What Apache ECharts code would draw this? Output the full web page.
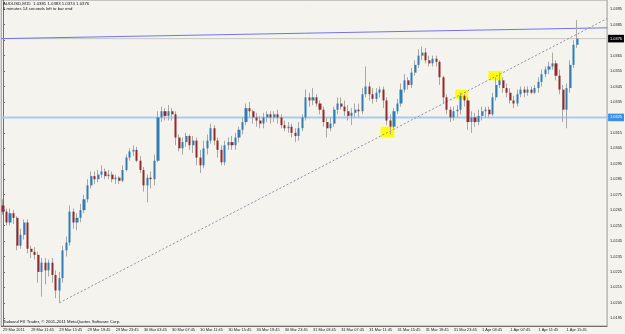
<!DOCTYPE html>
<html>
<head>
<meta charset="utf-8">
<script src="https://cdn.jsdelivr.net/npm/echarts@6/dist/echarts.min.js"></script>
<style>
html,body{margin:0;padding:0;background:#f4f3ee;}
#chart{width:625px;height:334px;}
</style>
</head>
<body>
<div id="chart"></div>
<script>
// ---- categories (30-minute bars) ----
const times29 = ["07:45","08:15","08:45","09:15","09:45","10:15","10:45","11:15","11:45","12:15","12:45","13:15","13:45","14:15","14:45","15:15","15:45","16:15","16:45","17:15","17:45","18:15","18:45","19:15","19:45","20:15","20:45","21:15","21:45","22:15","22:45","23:15","23:45"];
const timesDay = ["00:15","00:45","01:15","01:45","02:15","02:45","03:15","03:45","04:15","04:45","05:15","05:45","06:15","06:45","07:15","07:45","08:15","08:45","09:15","09:45","10:15","10:45","11:15","11:45","12:15","12:45","13:15","13:45","14:15","14:45","15:15","15:45","16:15","16:45","17:15","17:45","18:15","18:45","19:15","19:45","20:15","20:45","21:15","21:45","22:15","22:45","23:15","23:45"];
const timesApr1 = timesDay.slice(0, 43);
const categories = [].concat(
  times29.map(t => "29 Mar " + t),
  timesDay.map(t => "30 Mar " + t),
  timesDay.map(t => "31 Mar " + t),
  timesApr1.map(t => "1 Apr " + t)
);

// ---- tick labels ----
const xTickLabels = ["29 Mar 2011","29 Mar 11:45","29 Mar 15:45","29 Mar 19:45","29 Mar 23:45","30 Mar 03:45","30 Mar 07:45","30 Mar 11:45","30 Mar 15:45","30 Mar 19:45","30 Mar 23:45","31 Mar 03:45","31 Mar 07:45","31 Mar 11:45","31 Mar 15:45","31 Mar 19:45","31 Mar 23:45","1 Apr 03:45","1 Apr 07:45","1 Apr 11:45","1 Apr 15:45"];
const yTickValues = [1.0195,1.0205,1.0215,1.0225,1.0235,1.0245,1.0255,1.0265,1.0275,1.0285,1.0295,1.0305,1.0315,1.0325,1.0335,1.0345,1.0355,1.0365,1.0375,1.0385,1.0395];

// ---- OHLC ----
const opens = [
1.0268,1.0264,1.0257,1.0263,1.0260,1.0242,1.0249,1.0257,1.0240,1.0238,
1.0236,1.0225,1.0231,1.0226,1.0231,1.0223,1.0213,1.0221,1.0239,1.0244,
1.0264,1.0257,1.0260,1.0265,1.0272,1.0281,1.0287,1.0285,1.0288,1.0290,
1.0287,1.0288,1.0285,1.0286,1.0284,1.0291,1.0299,1.0303,1.0304,1.0297,
1.0291,1.0281,1.0286,1.0285,1.0297,1.0325,1.0329,1.0326,1.0329,1.0327,
1.0312,1.0305,1.0309,1.0313,1.0307,1.0310,1.0299,1.0294,1.0305,1.0310,
1.0318,1.0310,1.0304,1.0296,1.0307,1.0309,1.0307,1.0312,1.0317,1.0322,
1.0331,1.0329,1.0325,1.0323,1.0321,1.0325,1.0327,1.0325,1.0327,1.0325,
1.0320,1.0318,1.0319,1.0315,1.0313,1.0318,1.0325,1.0338,1.0336,1.0338,
1.0334,1.0330,1.0322,1.0318,1.0321,1.0330,1.0334,1.0332,1.0329,1.0326,
1.0328,1.0330,1.0329,1.0340,1.0345,1.0340,1.0337,1.0341,1.0343,1.0336,
1.0323,1.0319,1.0329,1.0334,1.0343,1.0349,1.0346,1.0354,1.0359,1.0365,
1.0367,1.0362,1.0360,1.0363,1.0361,1.0351,1.0338,1.0330,1.0325,1.0329,
1.0330,1.0339,1.0336,1.0322,1.0325,1.0322,1.0326,1.0329,1.0330,1.0327,
1.0338,1.0346,1.0349,1.0344,1.0341,1.0336,1.0334,1.0340,1.0343,1.0341,
1.0343,1.0341,1.0344,1.0348,1.0353,1.0356,1.0358,1.0360,1.0352,1.0343,
1.0330,1.0344,1.0359,1.0372];
const closes = [
1.0264,1.0257,1.0263,1.0260,1.0242,1.0249,1.0257,1.0240,1.0238,1.0236,
1.0225,1.0231,1.0226,1.0231,1.0223,1.0213,1.0221,1.0239,1.0244,1.0264,
1.0257,1.0260,1.0265,1.0272,1.0281,1.0287,1.0285,1.0288,1.0290,1.0287,
1.0288,1.0285,1.0286,1.0284,1.0291,1.0299,1.0303,1.0304,1.0297,1.0291,
1.0281,1.0286,1.0285,1.0297,1.0325,1.0329,1.0326,1.0329,1.0327,1.0312,
1.0305,1.0309,1.0313,1.0307,1.0310,1.0299,1.0294,1.0305,1.0310,1.0318,
1.0310,1.0304,1.0296,1.0307,1.0309,1.0307,1.0312,1.0317,1.0322,1.0331,
1.0329,1.0325,1.0323,1.0321,1.0325,1.0327,1.0325,1.0327,1.0325,1.0320,
1.0318,1.0319,1.0315,1.0313,1.0318,1.0325,1.0338,1.0336,1.0338,1.0334,
1.0330,1.0322,1.0318,1.0321,1.0330,1.0334,1.0332,1.0329,1.0326,1.0328,
1.0330,1.0329,1.0340,1.0345,1.0340,1.0337,1.0341,1.0343,1.0336,1.0323,
1.0319,1.0329,1.0334,1.0343,1.0349,1.0346,1.0354,1.0359,1.0365,1.0367,
1.0362,1.0360,1.0363,1.0361,1.0351,1.0338,1.0330,1.0325,1.0329,1.0330,
1.0339,1.0336,1.0322,1.0325,1.0322,1.0326,1.0329,1.0330,1.0327,1.0338,
1.0346,1.0349,1.0344,1.0341,1.0336,1.0334,1.0340,1.0343,1.0341,1.0343,
1.0341,1.0344,1.0348,1.0353,1.0356,1.0358,1.0360,1.0352,1.0343,1.0330,
1.0344,1.0359,1.0372,1.0376];
const highs = [
1.0272,1.0266,1.0266,1.0265,1.0261,1.0253,1.0259,1.0259,1.0242,1.0241,
1.0238,1.0234,1.0234,1.0233,1.0234,1.0226,1.0225,1.0242,1.0248,1.0268,
1.0266,1.0263,1.0269,1.0275,1.0285,1.0290,1.0290,1.0291,1.0294,1.0292,
1.0291,1.0290,1.0288,1.0287,1.0294,1.0301,1.0305,1.0307,1.0306,1.0300,
1.0293,1.0288,1.0290,1.0301,1.0329,1.0332,1.0331,1.0333,1.0331,1.0329,
1.0314,1.0312,1.0315,1.0314,1.0313,1.0312,1.0304,1.0310,1.0314,1.0321,
1.0320,1.0312,1.0307,1.0310,1.0312,1.0313,1.0315,1.0319,1.0325,1.0334,
1.0335,1.0330,1.0328,1.0326,1.0328,1.0329,1.0329,1.0329,1.0330,1.0327,
1.0323,1.0322,1.0321,1.0318,1.0322,1.0327,1.0343,1.0341,1.0344,1.0340,
1.0336,1.0332,1.0325,1.0325,1.0332,1.0338,1.0338,1.0336,1.0333,1.0331,
1.0334,1.0334,1.0344,1.0358,1.0348,1.0344,1.0344,1.0345,1.0345,1.0338,
1.0327,1.0331,1.0337,1.0347,1.0353,1.0351,1.0357,1.0362,1.0369,1.0371,
1.0370,1.0365,1.0365,1.0365,1.0362,1.0352,1.0340,1.0332,1.0332,1.0333,
1.0341,1.0340,1.0338,1.0329,1.0328,1.0330,1.0332,1.0332,1.0332,1.0341,
1.0351,1.0354,1.0351,1.0347,1.0344,1.0339,1.0343,1.0345,1.0345,1.0345,
1.0345,1.0346,1.0351,1.0356,1.0358,1.0361,1.0367,1.0362,1.0356,1.0346,
1.0347,1.0362,1.0375,1.0388];
const lows = [
1.0262,1.0255,1.0255,1.0256,1.0239,1.0240,1.0246,1.0237,1.0234,1.0233,
1.0218,1.0209,1.0217,1.0222,1.0218,1.0208,1.0205,1.0218,1.0235,1.0242,
1.0253,1.0252,1.0257,1.0263,1.0270,1.0279,1.0282,1.0283,1.0286,1.0285,
1.0285,1.0283,1.0282,1.0282,1.0283,1.0290,1.0297,1.0300,1.0296,1.0289,
1.0277,1.0270,1.0279,1.0281,1.0296,1.0322,1.0323,1.0323,1.0323,1.0307,
1.0303,1.0301,1.0306,1.0304,1.0302,1.0294,1.0289,1.0292,1.0301,1.0308,
1.0307,1.0299,1.0294,1.0294,1.0304,1.0304,1.0304,1.0309,1.0314,1.0320,
1.0325,1.0321,1.0319,1.0318,1.0318,1.0322,1.0321,1.0322,1.0321,1.0318,
1.0316,1.0315,1.0312,1.0309,1.0310,1.0316,1.0323,1.0332,1.0333,1.0332,
1.0327,1.0319,1.0312,1.0316,1.0319,1.0327,1.0330,1.0326,1.0323,1.0320,
1.0325,1.0325,1.0327,1.0338,1.0336,1.0334,1.0335,1.0338,1.0331,1.0320,
1.0314,1.0318,1.0327,1.0332,1.0341,1.0343,1.0344,1.0352,1.0357,1.0362,
1.0360,1.0358,1.0358,1.0358,1.0346,1.0334,1.0327,1.0322,1.0323,1.0325,
1.0327,1.0332,1.0317,1.0315,1.0319,1.0320,1.0323,1.0325,1.0325,1.0326,
1.0336,1.0344,1.0341,1.0338,1.0334,1.0331,1.0332,1.0338,1.0338,1.0339,
1.0340,1.0340,1.0341,1.0345,1.0351,1.0353,1.0356,1.0349,1.0340,1.0322,
1.0318,1.0341,1.0357,1.0370];

// ---- chart objects (bar index, price) ----
const dottedTrend = [[16, 1.0205], [171.5, 1.0389]];
const blueTrend = [[-0.5, 1.0376], [171.5, 1.0383]];
const yellowBoxes = [[107.2, 1.0319, 111.1, 1.0312], [128.4, 1.0343, 132.1, 1.0337], [137.8, 1.0355, 141.7, 1.0349]];
const horizontalLevel = 1.0325;
const bidPrice = 1.0376;
const xSpan = [-0.5, 171.5];
const headerOHLC = [1.0381, 1.0383, 1.0374, 1.0376];

const FONT = 'Liberation Sans';
const chart = echarts.init(document.getElementById('chart'), null, {renderer: 'canvas'});
const wickData = opens.map((o, i) => [o, closes[i], lows[i], highs[i]]);
const bodyData = opens.map((o, i) => [o, closes[i], Math.min(o, closes[i]), Math.max(o, closes[i])]);

function levelSeries(price, color, width, boxColor) {
  return {
    type: 'line', xAxisIndex: 1, data: xSpan.map(x => [x, price]), symbol: 'none', z: 2, silent: true,
    lineStyle: {color: color, width: width},
    endLabel: {show: true, distance: 1, formatter: price.toFixed(4), backgroundColor: boxColor, color: '#fff',
      padding: [1.8, 2, 1.8, 2], fontSize: 3.9, fontFamily: FONT}
  };
}

const option = {
  animation: false,
  backgroundColor: '#f4f3ee',
  grid: {left: 1, right: 17, top: 0, bottom: 8, show: true, borderColor: '#9a9a9a', borderWidth: 1, backgroundColor: 'transparent'},
  xAxis: [
    {type: 'category', data: categories, boundaryGap: true,
     axisLine: {lineStyle: {color: '#707070', width: 1}},
     axisTick: {alignWithLabel: true, interval: 7, length: 2, lineStyle: {color: '#707070'}},
     axisLabel: {interval: 7, align: 'left', margin: 2, fontSize: 3.9, color: '#222', fontFamily: FONT,
       formatter: (v, i) => (i % 8 === 0 && xTickLabels[i / 8]) ? xTickLabels[i / 8] : ''},
     splitLine: {show: false}},
    {type: 'value', min: xSpan[0], max: xSpan[1], show: false}
  ],
  yAxis: {type: 'value', position: 'right', min: 1.0190, max: 1.0401, scale: true,
    axisLine: {show: true, lineStyle: {color: '#707070', width: 1}},
    axisTick: {show: true, length: 2, customValues: yTickValues, lineStyle: {color: '#707070'}},
    axisLabel: {customValues: yTickValues, formatter: v => v.toFixed(4), fontSize: 3.9, margin: 3, color: '#222', fontFamily: FONT},
    splitLine: {show: false}},
  graphic: [
    {type: 'text', left: 3, top: 2.3, z: 100, style: {text: 'AUDUSD,M15  ' + headerOHLC.map(v => v.toFixed(4)).join(' '), fontSize: 4.3, fill: '#111', fontFamily: FONT}},
    {type: 'text', left: 3, top: 6.9, z: 100, style: {text: '6 minutes 14 seconds left to bar end', fontSize: 4.3, fill: '#111', fontFamily: FONT}},
    {type: 'text', left: 3, top: 319.8, z: 100, style: {text: 'Tadawul FX Trader, \u00a9 2001-2011 MetaQuotes Software Corp.', fontSize: 4.3, fill: '#111', fontFamily: FONT}}
  ],
  series: [
    {type: 'line', xAxisIndex: 1, data: [], z: 1, silent: true,
     markArea: {silent: true, z: 1, itemStyle: {color: '#ffff00', opacity: 1},
       data: yellowBoxes.map(b => [{coord: [b[0], b[1]]}, {coord: [b[2], b[3]]}])}},
    levelSeries(bidPrice, '#c6c6c6', 1, '#000000'),
    levelSeries(horizontalLevel, '#a8ccf0', 2, '#3b8fe6'),
    {type: 'line', xAxisIndex: 1, data: blueTrend, symbol: 'none', z: 2, silent: true,
     lineStyle: {color: '#7272ee', width: 1}},
    {type: 'line', xAxisIndex: 1, data: dottedTrend, symbol: 'none', z: 2, silent: true,
     lineStyle: {color: '#9090a4', width: 1, type: [2, 2]}},
    {type: 'candlestick', xAxisIndex: 0, data: wickData, barWidth: 1, z: 3, silent: true,
     itemStyle: {color: '#a8a8a8', color0: '#a8a8a8', borderColor: '#a8a8a8', borderColor0: '#a8a8a8', borderWidth: 1}},
    {type: 'candlestick', xAxisIndex: 0, data: bodyData, barWidth: 2.6, z: 4, silent: true,
     itemStyle: {color: '#2f7db8', color0: '#962828', borderColor: '#2f7db8', borderColor0: '#962828', borderWidth: 0}}
  ]
};
chart.setOption(option);
</script>
</body>
</html>
